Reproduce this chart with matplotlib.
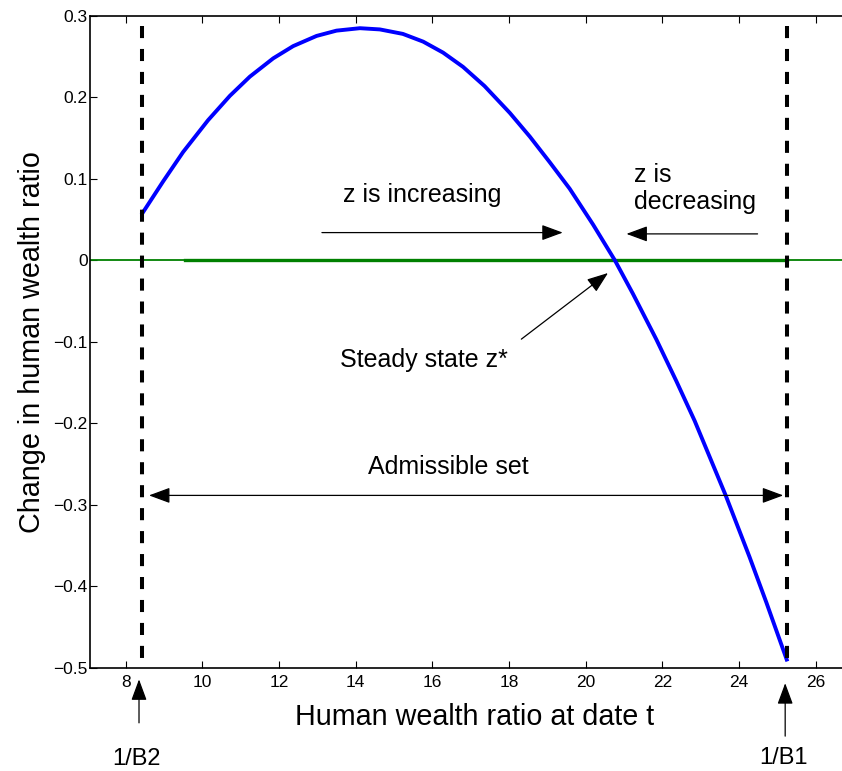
import matplotlib.pyplot as plt


# Curve
z = [8.44, 8.98, 9.50, 10.15, 10.72, 11.24, 11.85, 12.37, 12.98, 13.50,
     14.11, 14.63, 15.23, 15.76, 16.28, 16.80, 17.36, 18.02, 18.54, 19.06,
     19.58, 20.19, 20.76, 21.23, 21.84, 22.36, 22.84, 23.64, 24.27, 24.71,
     25.24]
dz = [0.058, 0.097, 0.133, 0.172, 0.202, 0.2255, 0.248, 0.263, 0.2755, 0.282,
      0.285, 0.2835, 0.278, 0.2685, 0.255, 0.2375, 0.214, 0.181, 0.152, 0.1205,
      0.088, 0.044, 0.0, -0.041, -0.097, -0.148, -0.197, -0.2875, -0.364,
      -0.420, -0.490]

inv_b2, inv_b1 = 8.44, 25.24
zero_start = 9.55

xticks = [8, 10, 12, 14, 16, 18, 20, 22, 24, 26]
yticks = [-0.5, -0.4, -0.3, -0.2, -0.1, 0, 0.1, 0.2, 0.3]
yticklabels = ['\u22120.5', '\u22120.4', '\u22120.3', '\u22120.2', '\u22120.1',
               '0', '0.1', '0.2', '0.3']

plt.rcParams['font.family'] = ['Liberation Sans', 'DejaVu Sans']


def arrow(ax, tail, head, style='-|>'):
    ax.annotate('', xy=head, xytext=tail, annotation_clip=False,
                arrowprops=dict(arrowstyle=style + ',head_length=0.65,head_width=0.24',
                                mutation_scale=20, lw=0.9, color='black',
                                shrinkA=0, shrinkB=0))


def main():
    fig = plt.figure(figsize=(8.42, 7.71), dpi=100)
    ax = fig.add_axes([0.10725, 0.13398, 0.9118, 0.8453])

    # zero line: thin over the whole axis, thicker inside
    ax.axhline(0, color='#008000', lw=1.3, zorder=2)
    ax.plot([zero_start, inv_b1], [0, 0], color='#008000', lw=2.4, zorder=2)

    ax.plot(z, dz, color='#0000ff', lw=2.8, zorder=3,
            solid_joinstyle='round')

    # bounds of the admissible set, dashes start from the top
    for xv in (inv_b2, inv_b1):
        ax.plot([xv, xv], [0.288, -0.5], color='black', lw=2.9,
                dashes=(3, 2.7), zorder=4)

    ax.set_xlim(7.08, 27.10)
    ax.set_ylim(-0.5, 0.3)
    ax.set_xticks(xticks)
    ax.set_yticks(yticks)
    ax.set_yticklabels(yticklabels)
    ax.tick_params(direction='in', length=5, width=0.8, labelsize=12.5,
                   top=True, right=True)
    ax.tick_params(axis='x', pad=5)
    ax.tick_params(axis='y', pad=2)
    for sp in ax.spines.values():
        sp.set_linewidth(1.2)

    ax.set_xlabel('Human wealth ratio at date t', fontsize=20.7, labelpad=9.5)
    ax.set_ylabel('Change in human wealth ratio', fontsize=20.7, labelpad=5.5)

    # annotations
    arrow(ax, (13.12, 0.0341), (19.40, 0.0341))
    arrow(ax, (24.48, 0.0325), (21.06, 0.0325))
    arrow(ax, (18.32, -0.0967), (20.58, -0.0155))
    arrow(ax, (8.61, -0.2885), (25.15, -0.2885), style='<|-|>')
    arrow(ax, (8.35, -0.5677), (8.35, -0.5143))
    arrow(ax, (25.20, -0.584), (25.20, -0.519))

    ax.text(13.67, 0.0714, 'z is increasing', fontsize=18, va='baseline')
    ax.text(21.25, 0.0633, 'z is\ndecreasing', fontsize=18, va='baseline',
            linespacing=1.15)
    ax.text(13.60, -0.1305, 'Steady state z*', fontsize=18, va='baseline')
    ax.text(16.41, -0.2628, 'Admissible set', fontsize=18, ha='center',
            va='baseline')
    ax.text(8.29, -0.6195, '1/B2', fontsize=17, ha='center', va='baseline',
            clip_on=False)
    ax.text(25.15, -0.6180, '1/B1', fontsize=17, ha='center', va='baseline',
            clip_on=False)

    plt.savefig('out.png', dpi=100)


if __name__ == '__main__':
    main()
